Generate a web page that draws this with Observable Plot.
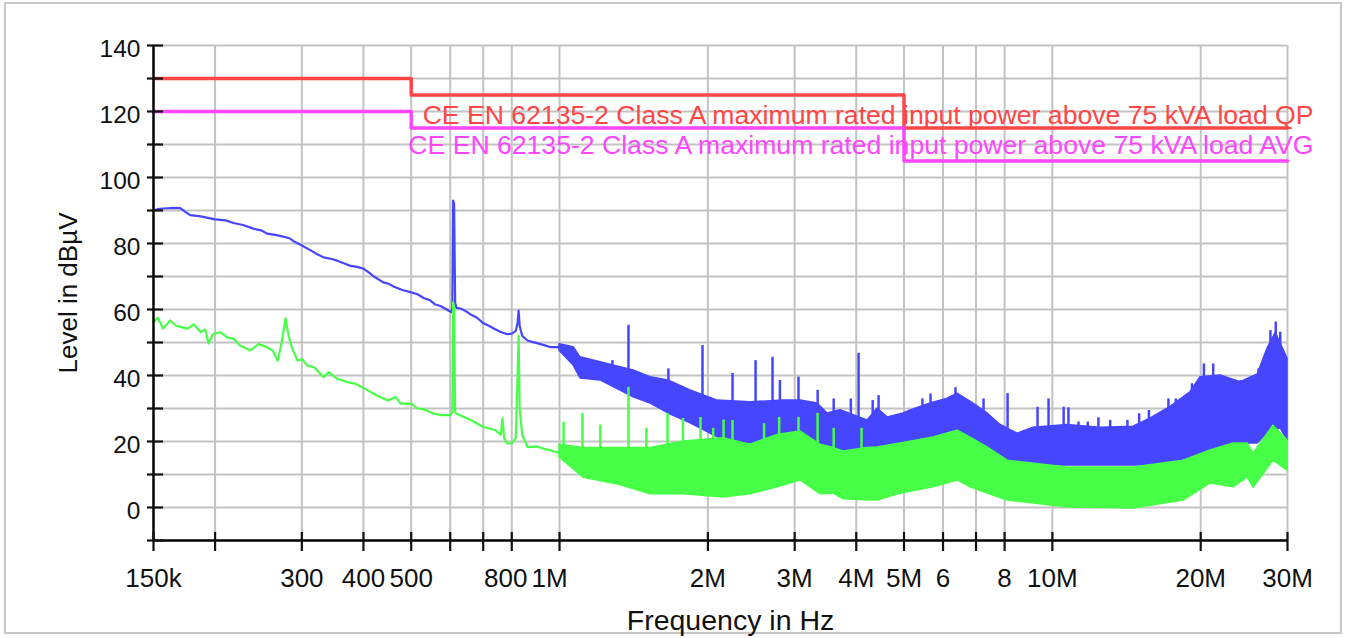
<!DOCTYPE html>
<html>
<head>
<meta charset="utf-8">
<script src="https://cdn.jsdelivr.net/npm/d3@7"></script>
<script src="https://cdn.jsdelivr.net/npm/@observablehq/plot@0.6"></script>
<style>
  html, body { margin: 0; padding: 0; background: #ffffff; overflow: hidden; }
  #wrap { position: relative; width: 1348px; height: 638px; font-family: "Liberation Sans", Arial, sans-serif; }
  #frame { position: absolute; left: 4px; top: 2px; width: 1338px; height: 632px; border: 2px solid #c8c8c8; box-sizing: border-box; }
  #chart { position: absolute; left: 0; top: 0; }
</style>
</head>
<body>
<div id="wrap"><div id="frame"></div><div id="chart"></div></div>
<script>
// ---------- axis ticks ----------
const xTicks = [150e3, 200e3, 300e3, 400e3, 500e3, 600e3, 700e3, 800e3, 1e6, 2e6, 3e6, 4e6, 5e6, 6e6, 7e6, 8e6, 10e6, 20e6, 30e6];
const xTickLabels = ["150k", "", "300", "400", "500", "", "", "800", "1M", "2M", "3M", "4M", "5M", "6", "", "8", "10M", "20M", "30M"];
const yTicks = [-10, 0, 10, 20, 30, 40, 50, 60, 70, 80, 90, 100, 110, 120, 130, 140];
const yTickLabels = [0, 20, 40, 60, 80, 100, 120, 140];

// ---------- limit lines (step after) ----------
const limitFreq = [150e3, 500e3, 5e6, 30e6];
const qpLimit = [130, 125, 115, 115];
const avgLimit = [120, 115, 105, 105];
const limitLabels = [
  "CE EN 62135-2 Class A maximum rated input power above 75 kVA load QP",
  "CE EN 62135-2 Class A maximum rated input power above 75 kVA load AVG"
];
const limitLabelLevel = [118.9, 109.8];

// ---------- blue trace (peak) : low-frequency line ----------
const blueLineFreq = [150e3, 153e3, 157e3, 165e3, 170e3, 174e3, 178e3, 187e3, 200e3, 210e3, 218e3, 228e3, 239e3, 248e3, 255e3, 265e3, 275e3, 283e3, 290e3, 300e3, 312e3, 320e3, 332e3, 345e3, 354e3, 365e3, 375e3, 388e3, 400e3, 412e3, 420e3, 439e3, 450e3, 460e3, 480e3, 500e3, 515e3, 530e3, 547e3, 560e3, 575e3, 595e3, 603e3, 606e3, 608e3, 611e3, 614e3, 618e3, 630e3, 645e3, 660e3, 680e3, 701e3, 720e3, 740e3, 760e3, 784e3, 800e3, 815e3, 822e3, 826e3, 830e3, 840e3, 861e3, 880e3, 900e3, 930e3, 959e3, 1.0e6];
const blueLineLevel = [90.0, 90.4, 90.6, 90.8, 90.7, 89.6, 88.6, 88.2, 87.3, 87.0, 86.2, 85.6, 84.5, 84.0, 83.0, 82.6, 82.1, 81.6, 80.5, 79.4, 78.0, 77.0, 75.8, 75.3, 74.8, 74.0, 73.3, 72.9, 72.4, 71.0, 70.0, 68.2, 67.8, 67.0, 65.9, 65.2, 64.6, 63.5, 62.7, 61.5, 61.0, 59.7, 59.2, 60.5, 93.0, 92.0, 62.0, 60.5, 60.3, 59.5, 58.5, 57.5, 55.8, 55.0, 54.0, 53.2, 52.5, 52.7, 53.5, 56.0, 59.7, 55.0, 52.0, 50.6, 50.2, 49.8, 49.2, 48.6, 48.6];

// ---------- blue trace : dense band above 1 MHz (lower / upper envelope) ----------
const blueBandFreq = [1.0e6, 1.068e6, 1.103e6, 1.211e6, 1.413e6, 1.53e6, 1.663e6, 1.844e6, 2.093e6, 2.44e6, 2.847e6, 3.084e6, 3.339e6, 3.498e6, 3.717e6, 4.218e6, 4.419e6, 4.629e6, 4.989e6, 5.155e6, 5.66e6, 6.129e6, 6.421e6, 6.919e6, 7.387e6, 7.851e6, 8.498e6, 9.159e6, 10.73e6, 12.52e6, 14.61e6, 15.83e6, 17.37e6, 19.08e6, 19.98e6, 21.94e6, 24.09e6, 26.1e6, 27.3e6, 28.4e6, 29.0e6, 30e6];
const blueBandLow = [47.5, 43.0, 39.1, 38.5, 33.4, 31.5, 28.5, 25.5, 21.3, 19.4, 22.4, 16.4, 15.2, 16.4, 13.3, 15.2, 14.2, 15.2, 16.4, 16.4, 18.2, 20.3, 20.3, 18.2, 16.4, 14.2, 13.3, 12.7, 12.7, 12.7, 12.7, 12.7, 13.3, 15.2, 16.4, 18.2, 19.4, 19.4, 22.4, 23.0, 24.2, 20.3];
const blueBandHigh = [49.5, 48.6, 45.5, 44.0, 41.5, 39.5, 38.5, 35.5, 32.4, 31.9, 32.4, 32.4, 31.5, 28.5, 29.5, 26.4, 30.0, 27.3, 28.5, 29.4, 31.5, 33.0, 34.5, 31.5, 28.5, 25.0, 22.4, 24.2, 25.0, 24.2, 24.5, 27.0, 30.5, 35.0, 39.5, 40.0, 38.0, 40.3, 48.0, 53.0, 50.0, 45.1];

// ---------- blue spikes (thin lines above the band) ----------
const blueSpikeFreq = [1.28e6, 1.38e6, 1.663e6, 1.95e6, 2.244e6, 2.499e6, 2.705e6, 2.8e6, 3.054e6, 3.34e6, 3.6e6, 3.9e6, 4.044e6, 4.32e6, 4.44e6, 5.45e6, 5.66e6, 6.36e6, 7.25e6, 8.112e6, 9.331e6, 9.823e6, 10.54e6, 10.78e6, 11.3e6, 11.8e6, 12.4e6, 13.1e6, 14.2e6, 15.0e6, 15.7e6, 17.2e6, 17.8e6, 18.8e6, 19.2e6, 20.3e6, 21.2e6, 24.1e6, 26.2e6, 27.7e6, 28.4e6, 29.0e6];
const blueSpikeBase = [40, 40, 36, 33, 31, 31, 32, 32, 31, 30, 28, 27, 27, 27, 28, 28, 30, 33, 29, 24, 22, 24, 24, 24, 24, 24, 24, 24, 24, 25, 26, 30, 31, 33, 35, 39, 39, 37, 39, 45, 50, 48];
const blueSpikeTop = [44.5, 55.2, 42.0, 49.1, 40.6, 44.5, 45.5, 38.5, 39.5, 35.5, 32.9, 32.9, 46.7, 32.4, 33.9, 32.9, 34.4, 36.3, 32.9, 34.5, 30.4, 32.9, 30.4, 30.2, 25.9, 25.9, 27.2, 26.4, 26.4, 28.4, 29.4, 32.9, 32.9, 33.9, 37.5, 43.5, 43.5, 38.5, 42.0, 53.6, 56.2, 53.1];

// ---------- green trace (average) : low-frequency line ----------
const greenLineFreq = [150e3, 153e3, 157e3, 162e3, 167e3, 176e3, 181e3, 187e3, 191e3, 194e3, 198e3, 205e3, 212e3, 218e3, 225e3, 236e3, 245e3, 255e3, 262e3, 268e3, 273e3, 278e3, 282e3, 287e3, 294e3, 300e3, 308e3, 318e3, 332e3, 340e3, 354e3, 371e3, 385e3, 408e3, 425e3, 448e3, 465e3, 476e3, 500e3, 515e3, 530e3, 555e3, 575e3, 601e3, 606e3, 608e3, 611e3, 614e3, 618e3, 630e3, 660e3, 701e3, 740e3, 760e3, 766e3, 772e3, 784e3, 800e3, 815e3, 822e3, 826e3, 830e3, 840e3, 861e3, 900e3, 930e3, 959e3, 1.0e6];
const greenLineLevel = [56.2, 57.5, 54.2, 56.7, 55.0, 54.2, 55.5, 53.1, 54.0, 49.7, 52.5, 53.1, 51.5, 51.2, 49.0, 47.6, 49.5, 48.6, 47.5, 44.5, 50.0, 57.3, 52.0, 48.0, 44.5, 45.0, 43.0, 42.5, 39.5, 41.0, 39.0, 38.0, 37.5, 35.5, 34.0, 32.4, 33.5, 31.5, 31.5, 30.0, 29.8, 28.5, 28.0, 28.0, 29.0, 62.2, 60.0, 29.0, 28.4, 27.9, 26.5, 24.4, 23.5, 22.0, 27.0, 21.0, 19.4, 19.5, 21.0, 40.0, 52.0, 30.0, 22.0, 18.3, 18.5, 17.8, 17.3, 16.5];

// ---------- green trace : dense band above 1 MHz ----------
const greenBandFreq = [1.0e6, 1.119e6, 1.311e6, 1.53e6, 1.785e6, 2.152e6, 2.44e6, 2.769e6, 3.084e6, 3.386e6, 3.598e6, 3.77e6, 4.218e6, 4.419e6, 4.92e6, 5.739e6, 6.421e6, 6.823e6, 7.387e6, 8.112e6, 10.73e6, 14.61e6, 18.47e6, 20.93e6, 23.32e6, 24.9e6, 25.6e6, 28.1e6, 30e6];
const greenBandLow = [15.2, 9.0, 7.0, 4.0, 4.0, 3.0, 4.0, 6.1, 8.2, 4.0, 4.2, 2.5, 2.1, 2.1, 4.2, 6.1, 8.2, 6.1, 4.2, 2.1, 0.0, -0.3, 2.1, 7.3, 6.1, 9.1, 6.0, 14.2, 11.2];
const greenBandHigh = [19.0, 18.0, 18.0, 18.0, 20.0, 21.0, 19.0, 22.0, 23.0, 19.0, 18.0, 17.0, 18.0, 18.2, 19.4, 21.2, 23.3, 21.2, 18.2, 14.2, 12.1, 12.1, 14.2, 17.3, 19.4, 19.4, 16.4, 24.8, 20.3];

// ---------- green spikes ----------
const greenSpikeFreq = [1.019e6, 1.113e6, 1.21e6, 1.38e6, 1.5e6, 1.656e6, 1.78e6, 1.932e6, 2.05e6, 2.152e6, 2.244e6, 2.6e6, 2.79e6, 3.054e6, 3.339e6, 3.6e6, 4.1e6];
const greenSpikeBase = [14, 10, 10, 12, 10, 10, 10, 10, 10, 10, 10, 10, 12, 14, 12, 10, 10];
const greenSpikeTop = [25.8, 28.5, 25.0, 36.4, 24.0, 28.5, 27.0, 27.3, 24.0, 26.5, 26.4, 25.4, 27.3, 27.3, 28.5, 24.0, 24.0];

// ---------- colours ----------
const colQP = "#ff4646", colAVG = "#ff46ff", colBlue = "#4646ff", colGreen = "#46ff46", colGrid = "#c3c3c3";

// ---------- build tables ----------
const zipLine = (F, V) => F.map((f, i) => ({f, v: V[i]}));
const zipBand = (F, L, H) => F.map((f, i) => ({f, lo: L[i], hi: H[i]}));
const qpRows = zipLine(limitFreq, qpLimit);
const avgRows = zipLine(limitFreq, avgLimit);
const blueLine = zipLine(blueLineFreq, blueLineLevel);
const blueBand = zipBand(blueBandFreq, blueBandLow, blueBandHigh);
const blueSpikes = zipBand(blueSpikeFreq, blueSpikeBase, blueSpikeTop);
const greenLine = zipLine(greenLineFreq, greenLineLevel);
const greenBand = zipBand(greenBandFreq, greenBandLow, greenBandHigh);
const greenSpikes = zipBand(greenSpikeFreq, greenSpikeBase, greenSpikeTop);
const labelRows = limitLabels.map((t, i) => ({t, v: limitLabelLevel[i], f: xTicks[xTicks.length - 1], c: i === 0 ? colQP : colAVG}));
const shiftedX = [800e3, 1e6];
const xLabelRows = xTicks.map((f, i) => ({f, label: xTickLabels[i]})).filter(d => d.label !== "");
const xLabelMain = xLabelRows.filter(d => !shiftedX.includes(d.f));
const xLabel800 = xLabelRows.filter(d => d.f === shiftedX[0]);
const xLabel1M = xLabelRows.filter(d => d.f === shiftedX[1]);

const font = "'Liberation Sans', Arial, sans-serif";
const xLabelOpts = {x: "f", text: "label", frameAnchor: "bottom", lineAnchor: "top", textAnchor: "middle", dy: 28, fontSize: 26, fill: "#111"};

const chart = Plot.plot({
  width: 1348,
  height: 638,
  marginLeft: 153,
  marginRight: 61,
  marginTop: 45,
  marginBottom: 98,
  style: {fontFamily: font, background: "transparent", color: "#111"},
  x: {type: "log", domain: [150e3, 30e6]},
  y: {domain: [-10, 140]},
  marks: [
    // grid
    Plot.ruleX(xTicks.slice(1), {stroke: colGrid, strokeWidth: 2}),
    Plot.ruleY(yTicks.slice(1), {stroke: colGrid, strokeWidth: 2}),
    // traces
    Plot.areaY(blueBand, {x: "f", y1: "lo", y2: "hi", fill: colBlue, stroke: colBlue, strokeWidth: 1.5}),
    Plot.line(blueLine, {x: "f", y: "v", stroke: colBlue, strokeWidth: 2.2}),
    Plot.ruleX(blueSpikes, {x: "f", y1: "lo", y2: "hi", stroke: colBlue, strokeWidth: 2.5}),
    Plot.areaY(greenBand, {x: "f", y1: "lo", y2: "hi", fill: colGreen, stroke: colGreen, strokeWidth: 1.5}),
    Plot.line(greenLine, {x: "f", y: "v", stroke: colGreen, strokeWidth: 2.2}),
    Plot.ruleX(greenSpikes, {x: "f", y1: "lo", y2: "hi", stroke: colGreen, strokeWidth: 2.5}),
    // limit lines
    Plot.line(qpRows, {x: "f", y: "v", curve: "step-after", stroke: colQP, strokeWidth: 3.5}),
    Plot.line(avgRows, {x: "f", y: "v", curve: "step-after", stroke: colAVG, strokeWidth: 3.5}),
    Plot.text(labelRows, {x: "f", y: "v", text: "t", fill: "c", textAnchor: "end", dx: 26, fontSize: 26.6}),
    // axes lines
    Plot.ruleX([150e3], {stroke: "#000", strokeWidth: 2.5}),
    Plot.ruleY([-10], {stroke: "#000", strokeWidth: 2.5}),
    // y ticks & labels
    Plot.axisY({ticks: yTicks, tickSize: 16, dx: 10, tickFormat: () => "", strokeWidth: 2.2, label: null}),
    Plot.axisY({ticks: yTickLabels, tickSize: 0, tickPadding: 13, dy: 4, fontSize: 24.5, tickFormat: d => String(d), label: null}),
    // x ticks
    Plot.axisX({ticks: xTicks, tickSize: 19, dy: -8, tickFormat: () => "", strokeWidth: 2.2, label: null}),
    // x tick labels
    Plot.text(xLabelMain, xLabelOpts),
    Plot.text(xLabel800, {...xLabelOpts, dx: -6}),
    Plot.text(xLabel1M, {...xLabelOpts, dx: -10}),
    // axis titles
    Plot.text(["Frequency in Hz"], {frameAnchor: "bottom", dy: 80, dx: 10, fontSize: 28.5, lineAnchor: "middle", textAnchor: "middle", fill: "#111"}),
    Plot.text(["Level in dBµV"], {frameAnchor: "left", dx: -85, rotate: -90, fontSize: 26, lineAnchor: "middle", textAnchor: "middle", fill: "#111"})
  ]
});
document.getElementById("chart").appendChild(chart);
</script>
</body>
</html>
